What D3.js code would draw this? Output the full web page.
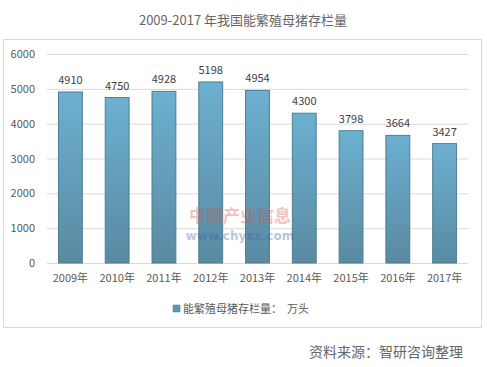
<!DOCTYPE html>
<html><head><meta charset="utf-8">
<script src="https://cdn.jsdelivr.net/npm/d3@7"></script>
<style>body{margin:0;background:#fff;font-family:"Noto Sans CJK SC","Microsoft YaHei",sans-serif;}</style>
</head><body><svg id="c" width="487" height="367"></svg>
<script>
const categories = ["2009年","2010年","2011年","2012年","2013年","2014年","2015年","2016年","2017年"];
const values = [4910,4750,4928,5198,4954,4300,3798,3664,3427];
const yTicks = [0,1000,2000,3000,4000,5000,6000];
const title = "2009-2017 年我国能繁殖母猪存栏量";
const legendLabel = "能繁殖母猪存栏量：  万头";
const source = "资料来源：智研咨询整理";

const svg = d3.select("#c");
const font = '"Noto Sans CJK SC", sans-serif';
const defs = svg.append("defs");
const g = defs.append("linearGradient").attr("id","bg").attr("x1",0).attr("y1",0).attr("x2",0).attr("y2",1);
g.append("stop").attr("offset","0%").attr("stop-color","#6cb0d0");
g.append("stop").attr("offset","100%").attr("stop-color","#5a8aa2");

svg.append("text").attr("x",243).attr("y",25).attr("text-anchor","middle")
  .attr("font-size",13).attr("fill","#666").attr("font-family",font).text(title);

svg.append("rect").attr("x",3.5).attr("y",39.5).attr("width",478).attr("height",288)
  .attr("fill","none").attr("stroke","#d9d9d9");

const x = d3.scaleBand().domain(categories).range([47,468]).paddingInner(0.49).paddingOuter(0.245);
const y = d3.scaleLinear().domain([0,6000]).range([263,54]);

const ga = svg.append("g").attr("transform","translate(47,0)")
  .call(d3.axisLeft(y).tickValues(yTicks).tickSize(-421).tickPadding(12).tickFormat(d3.format("d")));
ga.select(".domain").remove();
ga.selectAll(".tick line").attr("stroke","#d9d9d9");
ga.selectAll(".tick text").attr("font-size",11).attr("fill","#595959").attr("font-family",font);

svg.selectAll(".bar").data(values).join("rect").attr("class","bar")
  .attr("x",(d,i)=>x(categories[i])).attr("width",x.bandwidth())
  .attr("y",d=>y(d)).attr("height",d=>y(0)-y(d))
  .attr("fill","url(#bg)").attr("stroke","#4d7d94").attr("stroke-width",1);

svg.selectAll(".vl").data(values).join("text")
  .attr("x",(d,i)=>x(categories[i])+x.bandwidth()/2).attr("y",d=>y(d)-8)
  .attr("text-anchor","middle").attr("font-size",11).attr("fill","#404040").attr("font-family",font).text(d=>d);

const gx = svg.append("g").attr("transform","translate(0,263)")
  .call(d3.axisBottom(x).tickSize(0).tickPadding(11));
gx.select(".domain").remove();
gx.selectAll(".tick text").attr("font-size",11).attr("fill","#595959").attr("font-family",font);

// watermark
svg.append("text").attr("x",240).attr("y",222).attr("text-anchor","middle").attr("font-size",17)
  .attr("font-weight","bold").attr("fill","#d9534f").attr("opacity",0.35).attr("font-family",font).text("中国产业信息");
svg.append("text").attr("x",240).attr("y",240).attr("text-anchor","middle").attr("font-size",12)
  .attr("font-weight","bold").attr("fill","#3b5ba5").attr("opacity",0.35).attr("font-family","DejaVu Sans").text("www.chyxx.com");

svg.append("rect").attr("x",173).attr("y",305).attr("width",7).attr("height",7).attr("fill","#5f97b2").attr("stroke","#4d7d94").attr("stroke-width",0.5);
svg.append("text").attr("x",183).attr("y",313).attr("font-size",11).attr("fill","#595959").attr("font-family",font)
  .attr("xml:space","preserve").style("white-space","pre").text(legendLabel);

svg.append("text").attr("x",463).attr("y",357).attr("text-anchor","end").attr("font-size",14)
  .attr("fill","#666").attr("font-family",font).text(source);
</script></body></html>
